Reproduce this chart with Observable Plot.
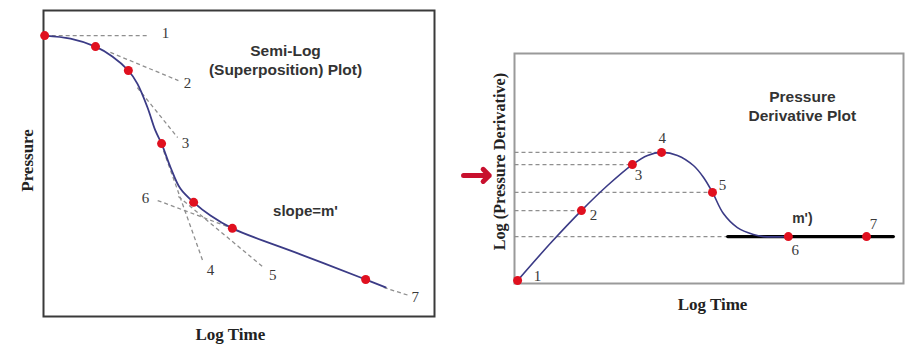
<!DOCTYPE html>
<html>
<head>
<meta charset="utf-8">
<script src="https://cdn.jsdelivr.net/npm/d3@7"></script>
<script src="https://cdn.jsdelivr.net/npm/@observablehq/plot@0.6"></script>
<style>
  html, body { margin: 0; padding: 0; background: #ffffff; }
  #wrap { display: flex; width: 908px; height: 347px; overflow: hidden; }
  #wrap svg { display: block; background: transparent; }
</style>
</head>
<body>
<div id="wrap"></div>
<script>
// ---------- Left panel: Semi-Log (Superposition) plot (units: 0..100) ----------
const leftCurveT = [0.3, 6.9, 13.3, 17.6, 21.7, 24.0, 26.6, 28.6, 30.2, 32.5, 35.0, 38.4, 42.7, 48.3, 65.7, 82.4, 87.5];
const leftCurveP = [91.8, 90.8, 88.2, 85.0, 80.4, 76.1, 68.3, 60.8, 56.5, 48.7, 41.8, 37.3, 33.0, 28.8, 20.3, 12.1, 9.5];
const leftPointT = [0.3, 13.3, 21.7, 30.2, 38.4, 48.3, 82.4];
const leftPointP = [91.8, 88.2, 80.4, 56.5, 37.3, 28.8, 12.1];
const tangentT1 = [0.3, 17.1, 24.0, 30.7, 34.5, 29.2, 87.0];
const tangentP1 = [91.8, 86.3, 74.8, 54.2, 39.2, 37.9, 9.5];
const tangentT2 = [26.9, 34.5, 34.3, 40.9, 56.3, 48.3, 93.4];
const tangentP2 = [91.8, 77.1, 58.5, 17.6, 16.0, 28.8, 6.9];
const leftLabels = ["1", "2", "3", "4", "5", "6", "7"];
const leftLabelT = [31.2, 36.8, 36.3, 42.7, 58.6, 26.1, 95.1];
const leftLabelP = [92.5, 76.1, 56.5, 15.0, 13.4, 38.6, 6.2];
const leftTitle = ["Semi-Log", "(Superposition) Plot)"];
const leftTitleT = [61.9, 61.9];
const leftTitleP = [86.9, 80.4];
const slopeText = ["slope=m'"];
const slopeT = [67.0];
const slopeP = [34.3];

// ---------- Right panel: Pressure Derivative plot (units: 0..100) ----------
const rightCurveT = [0.8, 9.3, 17.2, 23.9, 30.3, 34.2, 37.8, 41.9, 46.0, 48.6, 50.9, 53.7, 57.3, 61.4, 64.0, 70.4];
const rightCurveD = [1.3, 17.6, 31.7, 42.6, 51.7, 55.7, 57.0, 55.7, 51.3, 46.1, 39.6, 30.4, 24.3, 21.3, 20.4, 20.4];
const rightPointT = [0.8, 17.2, 30.3, 37.8, 50.9, 70.4, 90.5];
const rightPointD = [1.3, 31.7, 51.7, 57.0, 39.6, 20.4, 20.4];
const guideD = [57.0, 51.7, 39.6, 31.7, 20.4];
const guideEndT = [37.8, 30.3, 50.9, 17.2, 54.8];
const stabilT = [54.8, 97.4];
const stabilD = [20.4, 20.4];
const rightLabels = ["1", "2", "3", "4", "5", "6", "7"];
const rightLabelT = [5.9, 20.3, 31.9, 38.0, 53.5, 72.2, 92.3];
const rightLabelD = [3.0, 29.6, 47.0, 63.0, 42.6, 14.3, 25.7];
const rightTitle = ["Pressure", "Derivative Plot"];
const rightTitleT = [74.0, 74.0];
const rightTitleD = [80.9, 72.6];
const mText = ["m')"];
const mT = [74.0];
const mD = [28.3];
const arrowT = [-13.1, -6.5];
const arrowD = [47.0, 47.0];

// axis labels (positions in the same units, outside the frame)
const leftXLabel = ["Log Time"];   const leftXLabelPos = [47.8, -5.9];
const leftYLabel = ["Pressure"];   const leftYLabelPos = [-4.1, 51.0];
const rightXLabel = ["Log Time"];  const rightXLabelPos = [50.9, -9.1];
const rightYLabel = ["Log (Pressure Derivative)"]; const rightYLabelPos = [-3.9, 53.0];

const zip = (a, b) => a.map((v, i) => ({x: v, y: b[i]}));
const serif = "'Liberation Serif', 'DejaVu Serif', serif";
const sans = "'Liberation Sans', Arial, sans-serif";

const left = Plot.plot({
  width: 454, height: 347,
  marginLeft: 43, marginRight: 20, marginTop: 10, marginBottom: 31,
  x: {domain: [0, 100], axis: null},
  y: {domain: [0, 100], axis: null},
  marks: [
    Plot.frame({stroke: "#3a3a3a", strokeWidth: 2}),
    Plot.link(tangentT1, {x1: tangentT1, y1: tangentP1, x2: tangentT2, y2: tangentP2,
      stroke: "#8f8f8f", strokeWidth: 1.3, strokeDasharray: "4,3"}),
    Plot.line(zip(leftCurveT, leftCurveP), {x: "x", y: "y", curve: "catmull-rom",
      stroke: "#3b3b86", strokeWidth: 1.8}),
    Plot.dot(zip(leftPointT, leftPointP), {x: "x", y: "y", r: 4.5, fill: "#e0101f", stroke: "none"}),
    Plot.text(leftLabels, {x: leftLabelT, y: leftLabelP, text: d => d,
      fontFamily: serif, fontSize: 15, fill: "#3a3a3a"}),
    Plot.text(leftTitle, {x: leftTitleT, y: leftTitleP, text: d => d,
      fontFamily: sans, fontSize: 15.5, fontWeight: "bold", fill: "#333"}),
    Plot.text(slopeText, {x: slopeT, y: slopeP, text: d => d,
      fontFamily: sans, fontSize: 15, fontWeight: "bold", fill: "#333"}),
    Plot.text(leftXLabel, {x: [leftXLabelPos[0]], y: [leftXLabelPos[1]], text: d => d,
      fontFamily: serif, fontSize: 17, fontWeight: "bold", fill: "#222"}),
    Plot.text(leftYLabel, {x: [leftYLabelPos[0]], y: [leftYLabelPos[1]], text: d => d, rotate: -90,
      fontFamily: serif, fontSize: 17, fontWeight: "bold", fill: "#222"})
  ]
});

const right = Plot.plot({
  width: 454, height: 347,
  marginLeft: 60, marginRight: 5, marginTop: 53, marginBottom: 64,
  x: {domain: [0, 100], axis: null},
  y: {domain: [0, 100], axis: null},
  marks: [
    Plot.frame({stroke: "#9a9a9a", strokeWidth: 2}),
    Plot.link(guideD, {x1: guideD.map(() => 0), y1: guideD, x2: guideEndT, y2: guideD,
      stroke: "#8f8f8f", strokeWidth: 1.2, strokeDasharray: "4,3"}),
    Plot.line(zip(stabilT, stabilD), {x: "x", y: "y", stroke: "#000", strokeWidth: 3.2}),
    Plot.line(zip(rightCurveT, rightCurveD), {x: "x", y: "y", curve: "catmull-rom",
      stroke: "#3b3b86", strokeWidth: 1.6}),
    Plot.dot(zip(rightPointT, rightPointD), {x: "x", y: "y", r: 4.5, fill: "#e0101f", stroke: "none"}),
    Plot.text(rightLabels, {x: rightLabelT, y: rightLabelD, text: d => d,
      fontFamily: serif, fontSize: 15, fill: "#3a3a3a"}),
    Plot.text(rightTitle, {x: rightTitleT, y: rightTitleD, text: d => d,
      fontFamily: sans, fontSize: 15.5, fontWeight: "bold", fill: "#333"}),
    Plot.text(mText, {x: mT, y: mD, text: d => d,
      fontFamily: sans, fontSize: 14, fontWeight: "bold", fill: "#333"}),
    Plot.arrow([0], {x1: [arrowT[0]], y1: [arrowD[0]], x2: [arrowT[1]], y2: [arrowD[1]],
      stroke: "#c8102e", strokeWidth: 5, headLength: 10, headAngle: 90}),
    Plot.text(rightXLabel, {x: [rightXLabelPos[0]], y: [rightXLabelPos[1]], text: d => d,
      fontFamily: serif, fontSize: 17, fontWeight: "bold", fill: "#222"}),
    Plot.text(rightYLabel, {x: [rightYLabelPos[0]], y: [rightYLabelPos[1]], text: d => d, rotate: -90,
      fontFamily: serif, fontSize: 16.2, fontWeight: "bold", fill: "#222"})
  ]
});

const wrap = document.getElementById("wrap");
wrap.appendChild(left);
wrap.appendChild(right);
</script>
</body>
</html>
